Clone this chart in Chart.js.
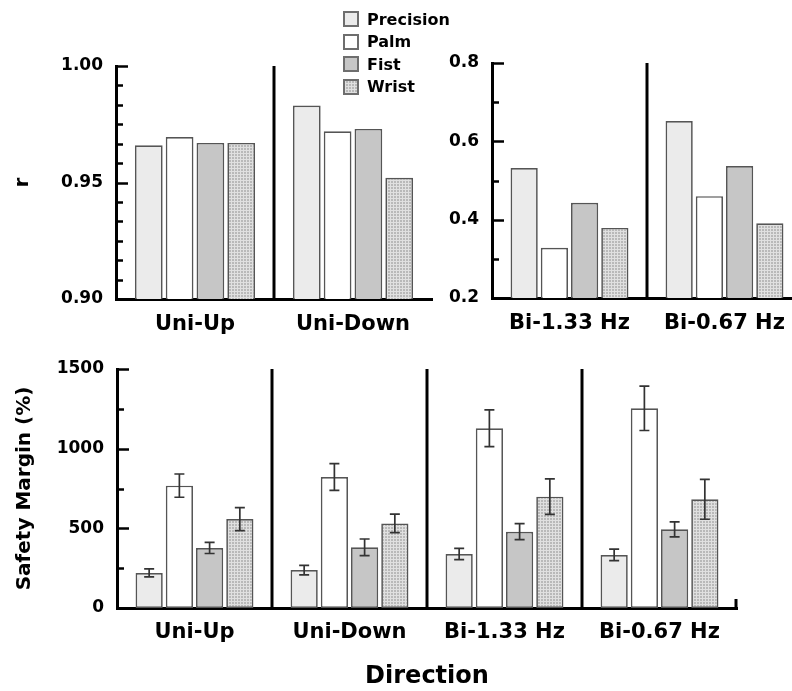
<!DOCTYPE html>
<html>
<head>
<meta charset="utf-8">
<script src="https://cdn.jsdelivr.net/npm/chart.js@4.4.1/dist/chart.umd.min.js"></script>
<style>
  html, body { margin: 0; padding: 0; background: #fff; overflow: hidden; }
  body { width: 792px; height: 691px; position: relative; }
  canvas { position: absolute; }
  #legend { position: absolute; left: 343px; top: 8px; z-index: 5;
    font: bold 16px "DejaVu Sans", sans-serif; color: #000; }
  .row { height: 22.5px; display: flex; align-items: center; }
  .sw { width: 12px; height: 12px; border: 2px solid #6e6e6e; margin-right: 8px; }
</style>
</head>
<body>
<canvas id="rUni" width="440" height="345" style="left:0;top:0"></canvas>
<canvas id="rBi" width="370" height="345" style="left:440px;top:0"></canvas>
<canvas id="margin" width="792" height="351" style="left:0;top:340px"></canvas>
<div id="legend"></div>

<script>
// categories
const uniGroups = ["Uni-Up", "Uni-Down"];
const biGroups = ["Bi-1.33 Hz", "Bi-0.67 Hz"];
const allGroups = ["Uni-Up", "Uni-Down", "Bi-1.33 Hz", "Bi-0.67 Hz"];
const grips = ["Precision", "Palm", "Fist", "Wrist"];

// r values, unimanual (top left)
const rUniPrecision = [0.966, 0.983];
const rUniPalm = [0.9695, 0.972];
const rUniFist = [0.967, 0.973];
const rUniWrist = [0.967, 0.952];

// r values, bimanual (top right)
const rBiPrecision = [0.532, 0.652];
const rBiPalm = [0.328, 0.460];
const rBiFist = [0.443, 0.537];
const rBiWrist = [0.379, 0.391];

// safety margin (%) and error bars (bottom)
const smPrecision = [220, 238, 339, 333];
const smPalm = [768, 822, 1128, 1253];
const smFist = [377, 381, 479, 494];
const smWrist = [558, 531, 699, 682];
const smPrecisionErr = [25, 30, 35, 36];
const smPalmErr = [73, 84, 115, 139];
const smFistErr = [35, 52, 50, 47];
const smWristErr = [72, 58, 112, 125];

Chart.defaults.font.family = "'DejaVu Sans', sans-serif";
Chart.defaults.font.weight = "bold";
Chart.defaults.color = "#000";

// grid-like fill for the Wrist bars
function wristPattern() {
  const c = document.createElement("canvas");
  c.width = 3; c.height = 3;
  const g = c.getContext("2d");
  g.fillStyle = "#b9b9b9";
  g.fillRect(0, 0, 3, 3);
  g.fillStyle = "#e0e0e0";
  g.fillRect(0, 0, 3, 1);
  g.fillRect(0, 0, 1, 3);
  return g.createPattern(c, "repeat");
}
const fills = ["#ebebeb", "#ffffff", "#c6c6c6", wristPattern()];

// legend
const legendDiv = document.getElementById("legend");
const swatchCss = ["#ebebeb", "#ffffff", "#c6c6c6",
  "repeating-linear-gradient(0deg,#e0e0e0 0 1px,transparent 1px 3px),repeating-linear-gradient(90deg,#e0e0e0 0 1px,#b9b9b9 1px 3px)"];
grips.forEach((g, i) => {
  legendDiv.innerHTML += `<div class="row"><div class="sw" style="background:${swatchCss[i]}"></div>${g}</div>`;
});

// draws inward ticks, group separators, error bars
const framePlugin = {
  id: "frame",
  afterDatasetsDraw(chart, args, opts) {
    const ctx = chart.ctx;
    const ys = chart.scales.y, xs = chart.scales.x;
    const area = chart.chartArea;
    ctx.save();
    ctx.strokeStyle = "#000";

    // inward ticks on y axis
    ctx.lineWidth = 2.5;
    for (let i = 0; i <= opts.minorCount; i++) {
      const v = ys.min + (ys.max - ys.min) * i / opts.minorCount;
      const y = Math.round(ys.getPixelForValue(v)) + 0.5;
      const len = i % opts.majorEvery === 0 ? 12 : 7;
      ctx.beginPath();
      ctx.moveTo(area.left, y);
      ctx.lineTo(area.left + len, y);
      ctx.stroke();
    }

    // vertical separators between groups
    ctx.lineWidth = 3;
    for (let i = 0; i < xs.ticks.length - 1; i++) {
      const x = (xs.getPixelForTick(i) + xs.getPixelForTick(i + 1)) / 2;
      ctx.beginPath();
      ctx.moveTo(x, area.top);
      ctx.lineTo(x, area.bottom);
      ctx.stroke();
    }

    if (opts.endTick) {
      ctx.beginPath();
      ctx.moveTo(area.right - 1, area.bottom);
      ctx.lineTo(area.right - 1, area.bottom - 9);
      ctx.stroke();
    }

    // error bars
    if (opts.errors) {
      ctx.strokeStyle = "#333";
      ctx.lineWidth = 1.7;
      chart.data.datasets.forEach((ds, di) => {
        const meta = chart.getDatasetMeta(di);
        meta.data.forEach((bar, j) => {
          const e = opts.errors[di][j];
          const v = ds.data[j];
          const yTop = ys.getPixelForValue(v + e);
          const yBot = ys.getPixelForValue(v - e);
          ctx.beginPath();
          ctx.moveTo(bar.x, yTop); ctx.lineTo(bar.x, yBot);
          ctx.moveTo(bar.x - 5, yTop); ctx.lineTo(bar.x + 5, yTop);
          ctx.moveTo(bar.x - 5, yBot); ctx.lineTo(bar.x + 5, yBot);
          ctx.stroke();
        });
      });
    }
    ctx.restore();
  }
};

function makeDatasets(seriesList) {
  return seriesList.map((data, i) => ({
    label: grips[i],
    data: data,
    backgroundColor: fills[i],
    borderColor: "#555",
    borderWidth: 1.7,
    borderSkipped: false,
    categoryPercentage: 0.78,
    barPercentage: 0.9,
  }));
}

function makeChart(id, labels, seriesList, cfg) {
  return new Chart(document.getElementById(id), {
    type: "bar",
    data: { labels: labels, datasets: makeDatasets(seriesList) },
    plugins: [framePlugin],
    options: {
      responsive: false,
      animation: false,
      layout: { padding: cfg.padding },
      plugins: {
        legend: { display: false },
        tooltip: { enabled: false },
        frame: cfg.frame,
      },
      scales: {
        x: {
          grid: { display: false, drawTicks: false },
          border: { display: true, width: 3, color: "#000" },
          ticks: { font: { size: 21 }, padding: cfg.xPad, maxRotation: 0 },
          title: cfg.xTitle || { display: false },
          afterFit: (s) => { s.height = cfg.xHeight; },
        },
        y: {
          min: cfg.min, max: cfg.max,
          grid: { display: false, drawTicks: false },
          border: { display: true, width: 3, color: "#000" },
          ticks: {
            stepSize: cfg.step,
            font: { size: 17 },
            padding: 13,
            callback: cfg.fmt,
          },
          title: cfg.yTitle || { display: false },
          afterFit: (s) => { s.width = cfg.yWidth; },
        },
      },
    },
  });
}

makeChart("rUni", uniGroups, [rUniPrecision, rUniPalm, rUniFist, rUniWrist], {
  padding: { top: 66, right: 8, left: 0, bottom: 0 },
  min: 0.9, max: 1.0, step: 0.05,
  fmt: (v) => v.toFixed(2),
  yWidth: 116, xHeight: 46, xPad: 13,
  yTitle: { display: true, text: "r", font: { size: 20 }, padding: { top: 11 } },
  frame: { minorCount: 12, majorEvery: 6 },
});

makeChart("rBi", biGroups, [rBiPrecision, rBiPalm, rBiFist, rBiWrist], {
  padding: { top: 63, right: 8, left: 0, bottom: 0 },
  min: 0.2, max: 0.8, step: 0.2,
  fmt: (v) => v.toFixed(1),
  yWidth: 52, xHeight: 47, xPad: 13,
  frame: { minorCount: 6, majorEvery: 2 },
});

makeChart("margin", allGroups, [smPrecision, smPalm, smFist, smWrist], {
  padding: { top: 29, right: 55, left: 0, bottom: 0 },
  min: 0, max: 1500, step: 500,
  fmt: (v) => String(Math.round(v)),
  yWidth: 117, xHeight: 83, xPad: 12,
  yTitle: { display: true, text: "Safety Margin (%)", font: { size: 20 }, padding: { top: 13 } },
  xTitle: { display: true, text: "Direction", font: { size: 24 }, padding: { top: 0, bottom: 0 } },
  frame: {
    minorCount: 6, majorEvery: 2, endTick: true,
    errors: [smPrecisionErr, smPalmErr, smFistErr, smWristErr],
  },
});
</script>
</body>
</html>
